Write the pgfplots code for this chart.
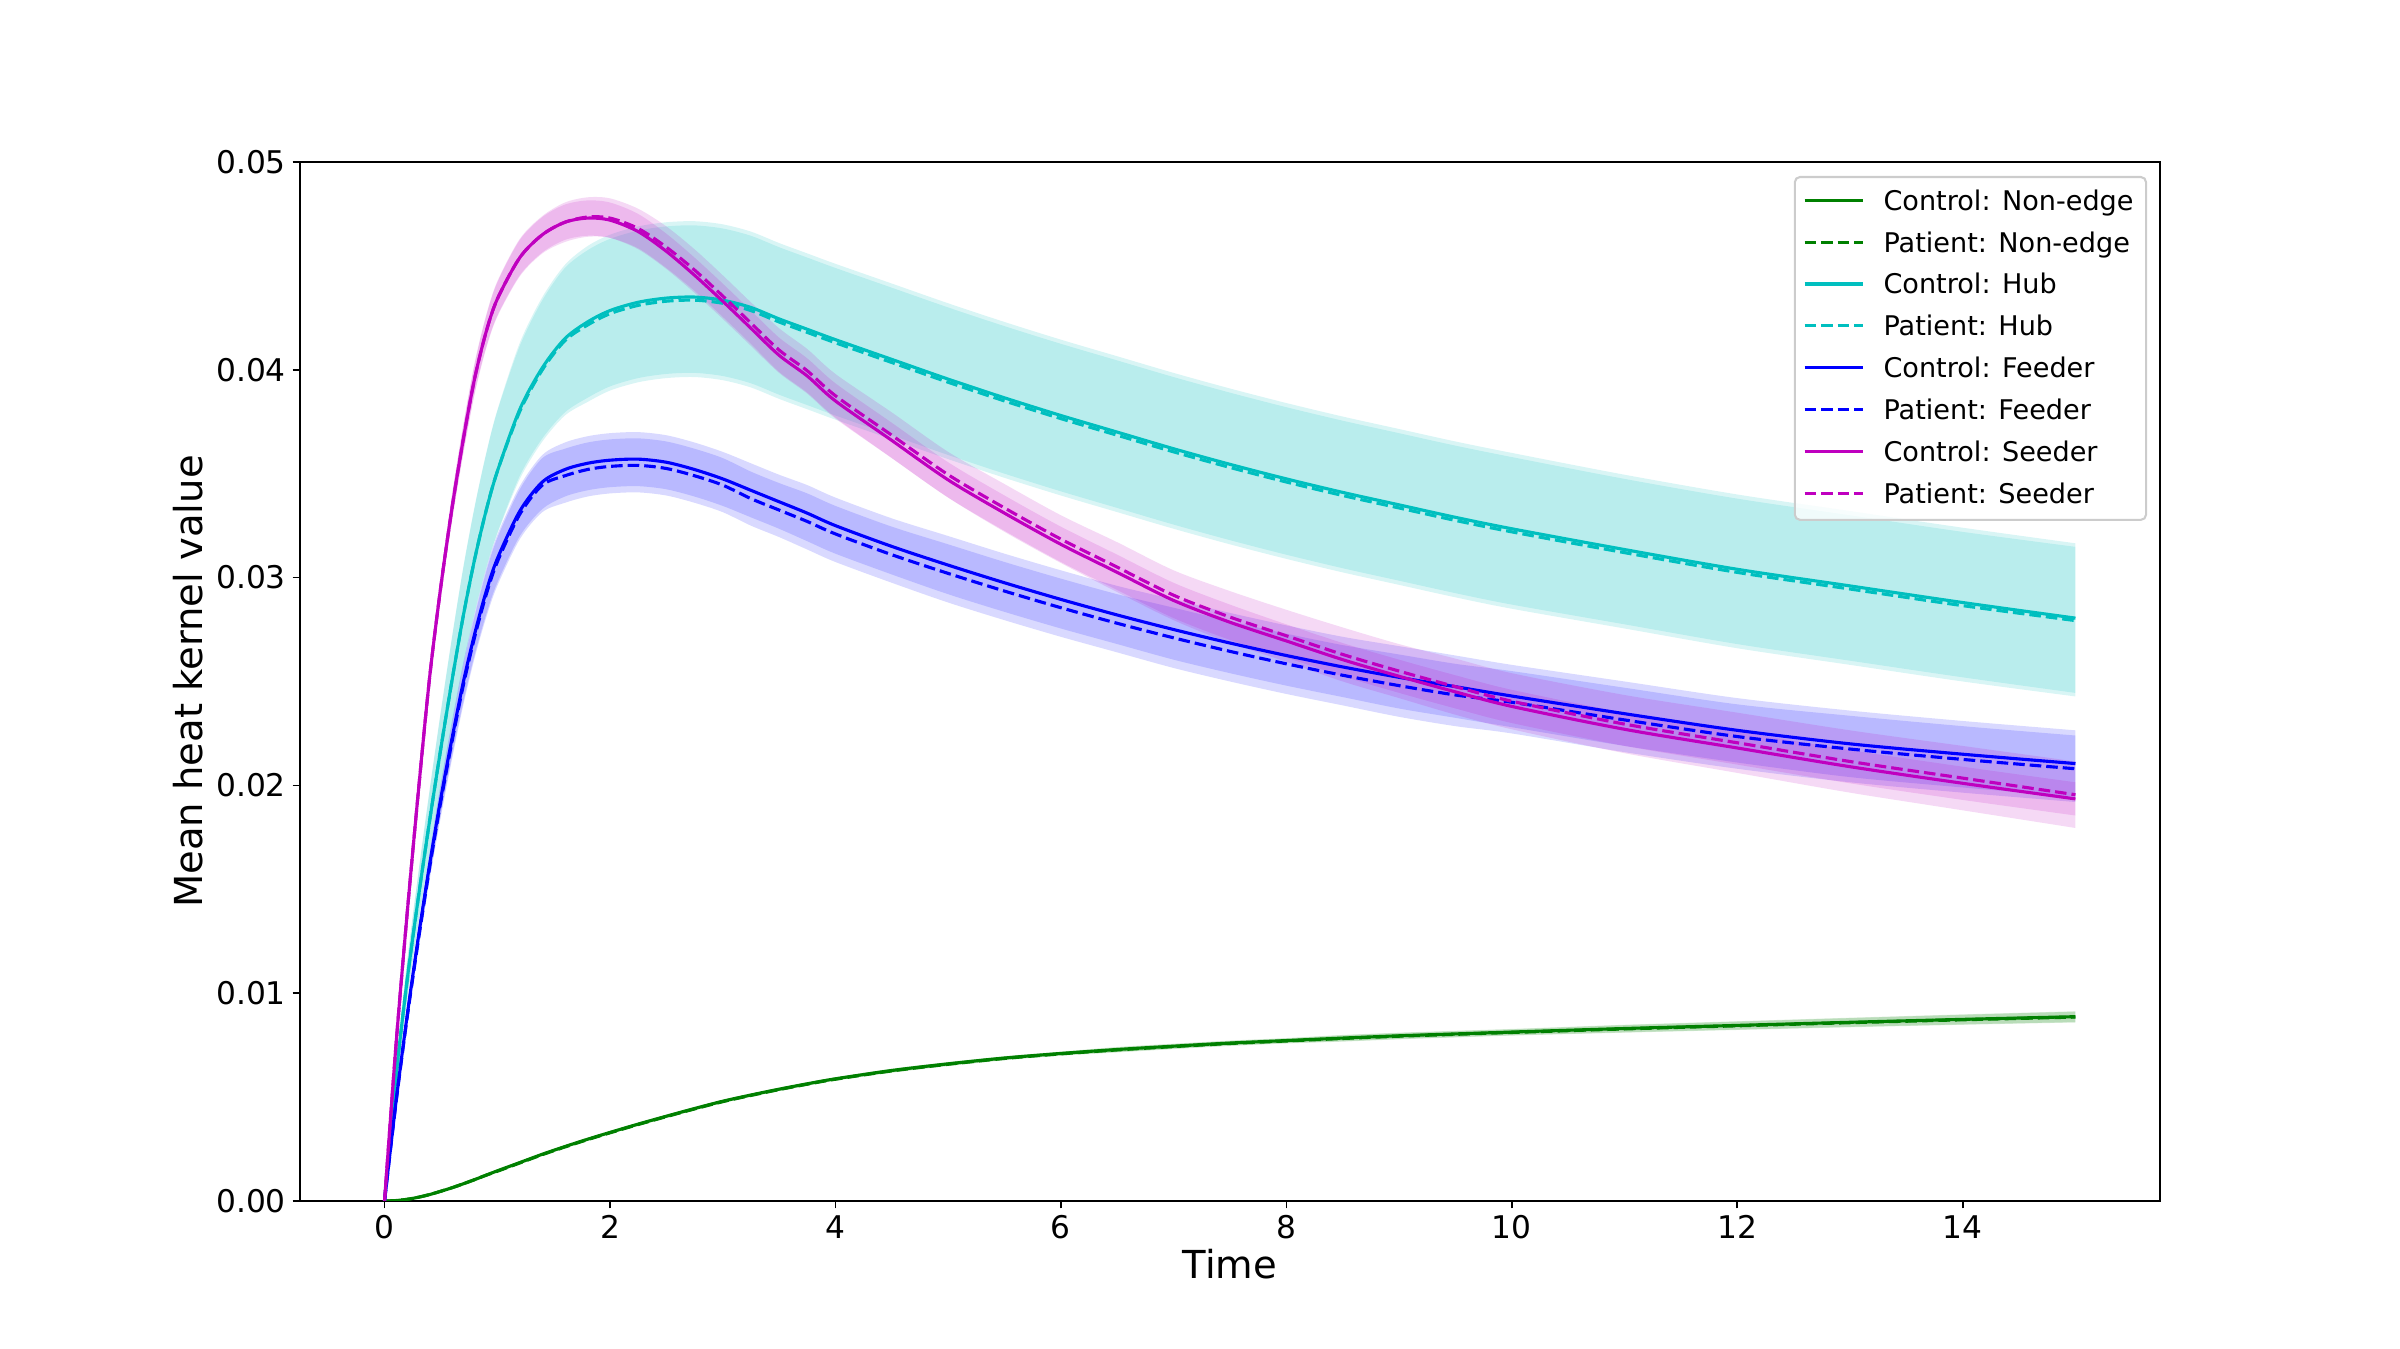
\documentclass[border=0pt]{standalone}
\usepackage{pgfplots}
\pgfplotsset{compat=1.18}
\usepackage{pgfplotstable}
\usepgfplotslibrary{fillbetween}
\usepackage{fontspec}
\setmainfont{DejaVu Sans}
\definecolor{mplgreen}{RGB}{0,128,0}
\definecolor{mplcyan}{RGB}{0,191,191}
\definecolor{mplblue}{RGB}{0,0,255}
\definecolor{mplmag}{RGB}{191,0,191}

% values in units of 0.001
\pgfplotstableread{
t c cl cu p pl pu
0 0 0 0 0 0 0
0.1 0.02 0.01 0.03 0.02 0.01 0.03
0.2 0.08 0.07 0.09 0.08 0.07 0.09
0.3 0.18 0.17 0.19 0.18 0.17 0.19
0.4 0.31 0.30 0.32 0.31 0.30 0.32
0.5 0.47 0.46 0.48 0.47 0.46 0.48
0.6 0.64 0.61 0.67 0.64 0.61 0.67
0.7 0.83 0.80 0.86 0.83 0.80 0.86
0.8 1.03 1.00 1.06 1.03 1.00 1.06
0.9 1.24 1.21 1.27 1.24 1.21 1.27
1.0 1.45 1.42 1.48 1.43 1.40 1.46
1.2 1.85 1.80 1.90 1.83 1.78 1.88
1.4 2.25 2.20 2.30 2.23 2.18 2.28
1.6 2.62 2.57 2.67 2.60 2.55 2.65
1.8 2.97 2.92 3.02 2.95 2.90 3.00
2.0 3.30 3.25 3.35 3.28 3.23 3.33
2.25 3.70 3.63 3.77 3.68 3.61 3.75
2.5 4.08 4.01 4.15 4.06 3.99 4.13
2.75 4.45 4.38 4.52 4.43 4.36 4.50
3.0 4.80 4.73 4.87 4.78 4.71 4.85
3.25 5.10 5.03 5.17 5.08 5.01 5.15
3.5 5.38 5.31 5.45 5.36 5.29 5.43
3.75 5.64 5.57 5.71 5.62 5.55 5.69
4.0 5.88 5.81 5.95 5.86 5.79 5.93
4.5 6.28 6.19 6.37 6.26 6.17 6.35
5.0 6.60 6.51 6.69 6.58 6.49 6.67
5.5 6.88 6.79 6.97 6.86 6.77 6.95
6.0 7.10 7.01 7.19 7.08 6.99 7.17
6.5 7.29 7.17 7.41 7.27 7.15 7.39
7.0 7.45 7.33 7.57 7.43 7.31 7.55
7.5 7.60 7.48 7.72 7.58 7.46 7.70
8.0 7.72 7.60 7.84 7.70 7.58 7.82
8.5 7.84 7.69 7.99 7.82 7.67 7.97
9.0 7.95 7.80 8.10 7.93 7.78 8.08
9.5 8.04 7.89 8.19 8.02 7.87 8.17
10 8.13 7.98 8.28 8.11 7.96 8.26
11 8.30 8.12 8.48 8.28 8.10 8.46
12 8.45 8.25 8.65 8.43 8.23 8.63
13 8.60 8.38 8.82 8.58 8.36 8.80
14 8.74 8.50 8.98 8.72 8.48 8.96
15 8.87 8.61 9.13 8.85 8.59 9.11
}\nonedge

\pgfplotstableread{
t c cl cu p pl pu
0 0 0 0 0 0 0
0.1 5.9 5.4 6.4 5.9 5.4 6.4
0.2 10.6 9.7 11.5 10.6 9.7 11.5
0.3 14.6 13.4 15.8 14.6 13.35 15.75
0.4 18.3 16.8 19.8 18.3 16.75 19.75
0.5 21.8 20.0 23.6 21.8 19.95 23.55
0.6 25.1 23.0 27.2 25.1 22.95 27.15
0.7 28.2 25.85 30.55 28.2 25.8 30.5
0.8 30.9 28.35 33.45 30.9 28.3 33.4
0.9 33.2 30.45 35.95 33.2 30.4 35.9
1.0 35.1 32.15 38.05 35.1 32.1 38.0
1.2 38.1 34.9 41.3 38.0 34.75 41.15
1.4 40.1 36.7 43.5 40.0 36.55 43.35
1.6 41.5 37.95 45.05 41.4 37.8 44.9
1.8 42.3 38.65 45.95 42.15 38.45 45.75
2.0 42.85 39.2 46.5 42.7 39.0 46.3
2.25 43.25 39.6 46.9 43.1 39.4 46.7
2.5 43.45 39.8 47.1 43.3 39.6 46.9
2.75 43.5 39.85 47.15 43.35 39.65 46.95
3.0 43.35 39.7 47.0 43.2 39.5 46.8
3.25 43.0 39.35 46.65 42.85 39.15 46.45
3.5 42.45 38.8 46.1 42.3 38.6 45.9
3.75 41.95 38.3 45.6 41.8 38.1 45.4
4.0 41.45 37.8 45.1 41.3 37.6 44.9
4.5 40.5 36.85 44.15 40.35 36.65 43.95
5.0 39.55 35.9 43.2 39.4 35.7 43.0
5.5 38.65 35.0 42.3 38.5 34.8 42.1
6.0 37.8 34.15 41.45 37.65 33.95 41.25
6.5 37.0 33.35 40.65 36.85 33.15 40.45
7.0 36.2 32.55 39.85 36.05 32.35 39.65
7.5 35.45 31.8 39.1 35.3 31.6 38.9
8.0 34.75 31.1 38.4 34.6 30.9 38.2
8.5 34.1 30.45 37.75 33.95 30.25 37.55
9.0 33.5 29.85 37.15 33.35 29.65 36.95
9.5 32.9 29.25 36.55 32.75 29.05 36.35
10 32.35 28.7 36.0 32.2 28.5 35.8
11 31.35 27.75 34.95 31.2 27.55 34.75
12 30.4 26.8 34.0 30.25 26.6 33.8
13 29.6 26.0 33.2 29.45 25.8 33.0
14 28.8 25.2 32.4 28.65 25.0 32.2
15 28.05 24.45 31.65 27.93 24.28 31.48
}\hub

\pgfplotstableread{
t c cl cu p pl pu
0 0 0 0 0 0 0
0.1 4.7 4.5 4.9 4.65 4.45 4.85
0.2 8.9 8.55 9.25 8.8 8.45 9.15
0.3 12.7 12.2 13.2 12.55 12.05 13.05
0.4 16.2 15.6 16.8 16.05 15.45 16.65
0.5 19.4 18.65 20.15 19.25 18.5 20.0
0.6 22.3 21.45 23.15 22.15 21.3 23.0
0.7 25.0 24.05 25.95 24.85 23.9 25.8
0.8 27.3 26.3 28.3 27.15 26.15 28.15
0.9 29.3 28.2 30.4 29.15 28.05 30.25
1.0 30.9 29.75 32.05 30.75 29.6 31.9
1.2 33.2 32.0 34.4 33.05 31.85 34.25
1.4 34.6 33.3 35.9 34.45 33.15 35.75
1.6 35.2 33.9 36.5 34.9 33.6 36.2
1.8 35.5 34.2 36.8 35.2 33.9 36.5
2.0 35.65 34.35 36.95 35.35 34.05 36.65
2.25 35.7 34.4 37.0 35.4 34.1 36.7
2.5 35.55 34.25 36.85 35.25 33.95 36.55
2.75 35.2 33.9 36.5 34.9 33.6 36.2
3.0 34.75 33.45 36.05 34.45 33.15 35.75
3.25 34.2 32.9 35.5 33.8 32.5 35.1
3.5 33.65 32.35 34.95 33.25 31.95 34.55
3.75 33.1 31.75 34.45 32.7 31.35 34.05
4.0 32.5 31.15 33.85 32.1 30.75 33.45
4.5 31.5 30.15 32.85 31.1 29.75 32.45
5.0 30.6 29.2 32.0 30.2 28.8 31.6
5.5 29.75 28.35 31.15 29.35 27.95 30.75
6.0 28.95 27.55 30.35 28.55 27.15 29.95
6.5 28.2 26.8 29.6 27.8 26.4 29.2
7.0 27.5 26.05 28.95 27.1 25.65 28.55
7.5 26.85 25.4 28.3 26.45 25.0 27.9
8.0 26.25 24.8 27.7 25.85 24.4 27.3
8.5 25.7 24.25 27.15 25.3 23.85 26.75
9.0 25.2 23.7 26.7 24.8 23.3 26.3
9.5 24.75 23.25 26.25 24.35 22.85 25.85
10 24.3 22.8 25.8 24.0 22.5 25.5
11 23.45 21.9 25.0 23.15 21.6 24.7
12 22.65 21.1 24.2 22.35 20.8 23.9
13 22.0 20.4 23.6 21.75 20.15 23.35
14 21.5 19.9 23.1 21.25 19.65 22.85
15 21.05 19.45 22.65 20.8 19.2 22.4
}\feeder

\pgfplotstableread{
t c cl cu p pl pu
0 0 0 0 0 0 0
0.1 7.4 7.25 7.55 7.4 7.25 7.55
0.2 13.8 13.55 14.05 13.8 13.5 14.1
0.3 19.7 19.35 20.05 19.7 19.3 20.1
0.4 25.2 24.75 25.65 25.2 24.7 25.7
0.5 29.6 29.1 30.1 29.6 29.05 30.15
0.6 33.4 32.8 34.0 33.4 32.75 34.05
0.7 36.7 36.05 37.35 36.7 36.0 37.4
0.8 39.6 38.9 40.3 39.6 38.85 40.35
0.9 41.8 41.05 42.55 41.8 41.0 42.6
1.0 43.4 42.6 44.2 43.4 42.55 44.25
1.2 45.4 44.55 46.25 45.4 44.5 46.3
1.4 46.5 45.65 47.35 46.5 45.6 47.4
1.6 47.1 46.25 47.95 47.1 46.15 48.05
1.8 47.3 46.45 48.15 47.35 46.4 48.3
2.0 47.2 46.35 48.05 47.3 46.35 48.25
2.25 46.65 45.8 47.5 46.8 45.85 47.75
2.5 45.7 44.85 46.55 45.9 44.9 46.9
2.75 44.55 43.7 45.4 44.8 43.8 45.8
3.0 43.3 42.45 44.15 43.55 42.55 44.55
3.25 42.0 41.15 42.85 42.25 41.25 43.25
3.5 40.7 39.85 41.55 40.95 39.9 42.0
3.75 39.7 38.85 40.55 39.95 38.9 41.0
4.0 38.5 37.65 39.35 38.75 37.7 39.8
4.5 36.6 35.75 37.45 36.85 35.75 37.95
5.0 34.7 33.85 35.55 34.95 33.85 36.05
5.5 33.1 32.25 33.95 33.35 32.2 34.5
6.0 31.6 30.75 32.45 31.85 30.7 33.0
6.5 30.25 29.4 31.1 30.5 29.3 31.7
7.0 28.9 28.05 29.75 29.15 27.95 30.35
7.5 27.85 27.0 28.7 28.1 26.85 29.35
8.0 26.95 26.15 27.75 27.2 25.95 28.45
8.5 26.05 25.25 26.85 26.3 25.0 27.6
9.0 25.25 24.45 26.05 25.5 24.2 26.8
9.5 24.5 23.7 25.3 24.75 23.4 26.1
10 23.8 23.0 24.6 24.05 22.7 25.4
11 22.7 21.9 23.5 22.95 21.55 24.35
12 21.8 21.0 22.6 22.05 20.6 23.5
13 20.9 20.1 21.7 21.15 19.65 22.65
14 20.1 19.3 20.9 20.35 18.8 21.9
15 19.35 18.55 20.15 19.55 17.95 21.15
}\seeder

\begin{document}
\begin{tikzpicture}
\begin{axis}[
  at={(0,0)}, anchor=south west,
  scale only axis, width=892.8pt, height=498.72pt,
  xmin=-0.75, xmax=15.75, ymin=0, ymax=50,
  xtick={0,2,...,14},
  ytick={0,10,20,30,40,50},
  yticklabels={0.00,0.01,0.02,0.03,0.04,0.05},
  /pgf/number format/assume math mode=true,
  tick pos=left, tick align=outside,
  major tick length=3.5pt,
  tick style={black, line width=0.8pt},
  axis line style={line width=0.8pt},
  tick label style={font=\fontsize{15}{18}\selectfont},
  xticklabel style={anchor=north, inner sep=0pt, yshift=-3.2pt},
  yticklabel style={anchor=east, inner sep=0pt, xshift=-3.1pt},
  label style={font=\fontsize{18.5}{22}\selectfont},
  xlabel={Time},
  ylabel={Mean heat kernel value},
  xlabel style={at={(axis description cs:0.5,-0.075)}, anchor=base},
  ylabel style={at={(axis description cs:-0.0603,0.5)}, anchor=center},
  legend cell align=left,
  legend image code/.code={\path[draw=none,fill=none] (0pt,-3pt) rectangle (36.6pt,3pt); \draw[#1] (2.7pt,0.8pt) -- (30.7pt,0.8pt);},
  legend style={at={(1,1)}, anchor=north east, xshift=-6.2pt, yshift=-6.7pt,
    draw=black!20, line width=1pt, rounded corners=2.5pt,
    fill=white, fill opacity=0.8, text opacity=1,
    font=\fontsize{13}{15.6}\selectfont,
    inner xsep=2pt, inner ysep=5.5pt, row sep=6.97pt,
    nodes={inner xsep=4pt, inner ysep=0pt, text height=10.5pt, text depth=2.6pt}},
  ctl/.style={line width=1.5pt, smooth},
  pat/.style={line width=1.5pt, smooth, dash pattern=on 5.55pt off 2.4pt},
  band/.style={draw=none, smooth, forget plot},
]
% ---- Non-edge
\addplot[band, name path=gcu] table[x=t,y=cu]{\nonedge};
\addplot[band, name path=gcl] table[x=t,y=cl]{\nonedge};
\addplot[fill=mplgreen, fill opacity=0.15, forget plot] fill between[of=gcu and gcl];
\addplot[band, name path=gpu] table[x=t,y=pu]{\nonedge};
\addplot[band, name path=gpl] table[x=t,y=pl]{\nonedge};
\addplot[fill=mplgreen, fill opacity=0.15, forget plot] fill between[of=gpu and gpl];
% ---- Hub
\addplot[band, name path=hcu] table[x=t,y=cu]{\hub};
\addplot[band, name path=hcl] table[x=t,y=cl]{\hub};
\addplot[fill=mplcyan, fill opacity=0.15, forget plot] fill between[of=hcu and hcl];
\addplot[band, name path=hpu] table[x=t,y=pu]{\hub};
\addplot[band, name path=hpl] table[x=t,y=pl]{\hub};
\addplot[fill=mplcyan, fill opacity=0.15, forget plot] fill between[of=hpu and hpl];
% ---- Feeder
\addplot[band, name path=fcu] table[x=t,y=cu]{\feeder};
\addplot[band, name path=fcl] table[x=t,y=cl]{\feeder};
\addplot[fill=mplblue, fill opacity=0.15, forget plot] fill between[of=fcu and fcl];
\addplot[band, name path=fpu] table[x=t,y=pu]{\feeder};
\addplot[band, name path=fpl] table[x=t,y=pl]{\feeder};
\addplot[fill=mplblue, fill opacity=0.15, forget plot] fill between[of=fpu and fpl];
% ---- Seeder
\addplot[band, name path=scu] table[x=t,y=cu]{\seeder};
\addplot[band, name path=scl] table[x=t,y=cl]{\seeder};
\addplot[fill=mplmag, fill opacity=0.15, forget plot] fill between[of=scu and scl];
\addplot[band, name path=spu] table[x=t,y=pu]{\seeder};
\addplot[band, name path=spl] table[x=t,y=pl]{\seeder};
\addplot[fill=mplmag, fill opacity=0.15, forget plot] fill between[of=spu and spl];

% ---- mean lines
\addplot[ctl, mplgreen] table[x=t,y=c]{\nonedge};
\addlegendentry{Control: Non-edge}
\addplot[pat, mplgreen] table[x=t,y=p]{\nonedge};
\addlegendentry{Patient: Non-edge}
\addplot[ctl, mplcyan] table[x=t,y=c]{\hub};
\addlegendentry{Control: Hub}
\addplot[pat, mplcyan] table[x=t,y=p]{\hub};
\addlegendentry{Patient: Hub}
\addplot[ctl, mplblue] table[x=t,y=c]{\feeder};
\addlegendentry{Control: Feeder}
\addplot[pat, mplblue] table[x=t,y=p]{\feeder};
\addlegendentry{Patient: Feeder}
\addplot[ctl, mplmag] table[x=t,y=c]{\seeder};
\addlegendentry{Control: Seeder}
\addplot[pat, mplmag] table[x=t,y=p]{\seeder};
\addlegendentry{Patient: Seeder}
\end{axis}
\path (-144pt,-71.04pt) rectangle (1008pt,576.48pt);
\end{tikzpicture}
\end{document}
